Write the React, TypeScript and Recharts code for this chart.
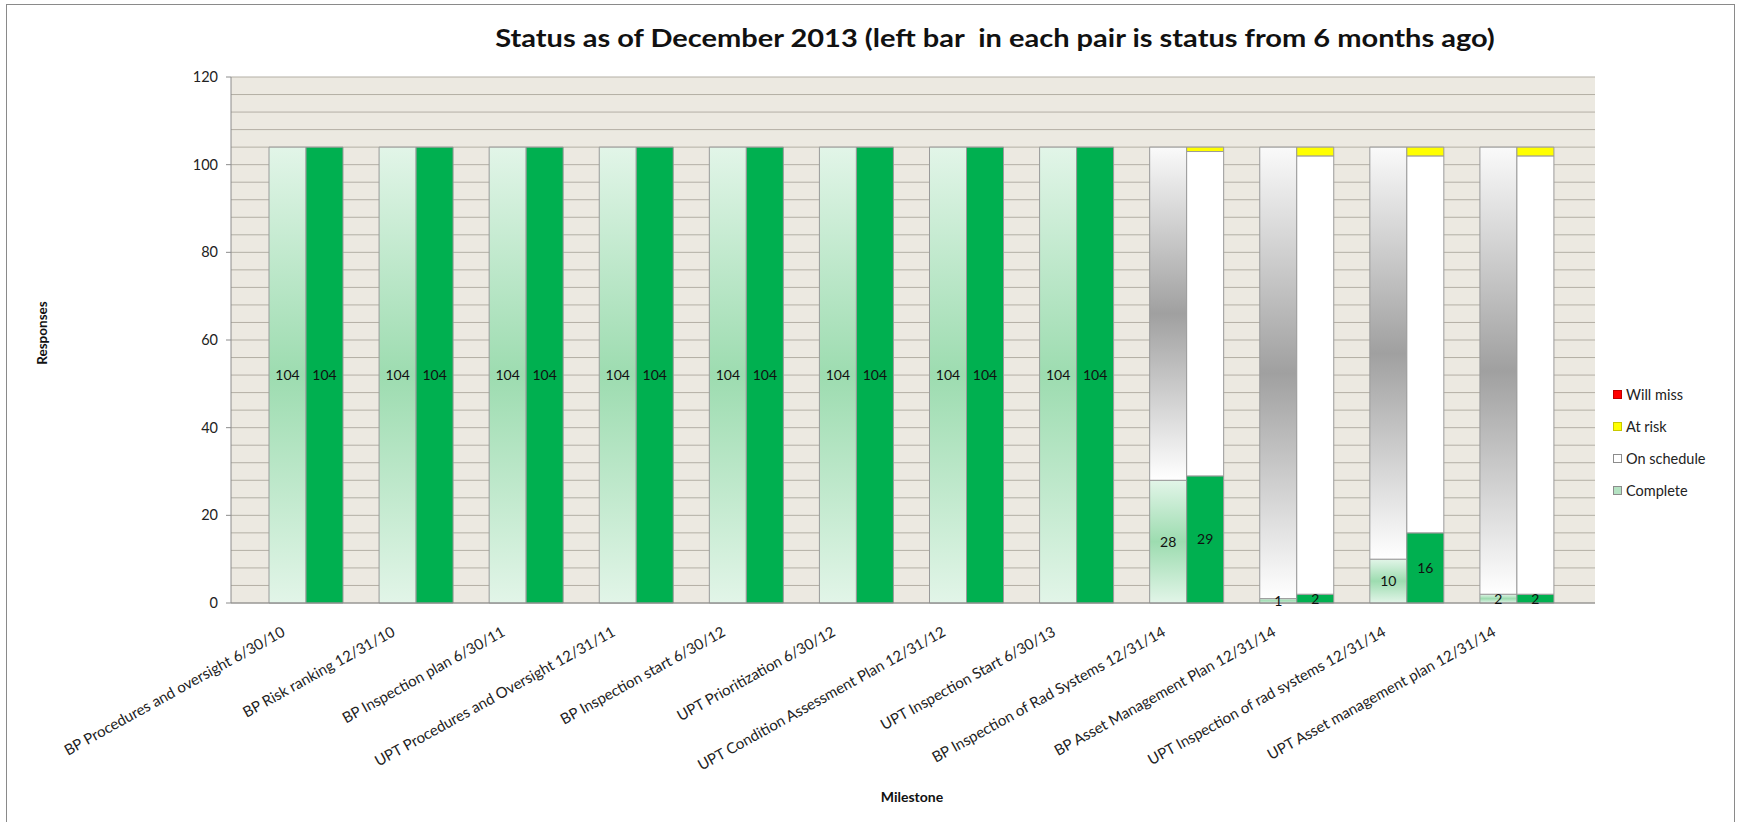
import React from 'react';
import { BarChart, Bar, XAxis, YAxis, CartesianGrid, LabelList } from 'recharts';

const categories = [
  'BP Procedures and oversight 6/30/10',
  'BP Risk ranking 12/31/10',
  'BP Inspection plan 6/30/11',
  'UPT Procedures and Oversight 12/31/11',
  'BP Inspection start 6/30/12',
  'UPT Prioritization 6/30/12',
  'UPT Condition Assessment Plan 12/31/12',
  'UPT Inspection Start 6/30/13',
  'BP Inspection of Rad Systems 12/31/14',
  'BP Asset Management Plan 12/31/14',
  'UPT Inspection of rad systems 12/31/14',
  'UPT Asset management plan 12/31/14',
];

// left bar in each pair: status 6 months ago
const prevComplete = [104, 104, 104, 104, 104, 104, 104, 104, 28, 1, 10, 2];
const prevOnSchedule = [0, 0, 0, 0, 0, 0, 0, 0, 76, 103, 94, 102];
const prevAtRisk = [0, 0, 0, 0, 0, 0, 0, 0, 0, 0, 0, 0];
const prevWillMiss = [0, 0, 0, 0, 0, 0, 0, 0, 0, 0, 0, 0];

// right bar in each pair: current status
const currComplete = [104, 104, 104, 104, 104, 104, 104, 104, 29, 2, 16, 2];
const currOnSchedule = [0, 0, 0, 0, 0, 0, 0, 0, 74, 100, 86, 100];
const currAtRisk = [0, 0, 0, 0, 0, 0, 0, 0, 1, 2, 2, 2];
const currWillMiss = [0, 0, 0, 0, 0, 0, 0, 0, 0, 0, 0, 0];

const yTicks = [0, 20, 40, 60, 80, 100, 120];
const gridValues = [0, 4, 8, 12, 16, 20, 24, 28, 32, 36, 40, 44, 48, 52, 56, 60, 64, 68, 72, 76, 80, 84, 88, 92, 96, 100, 104, 108, 112, 116, 120];

const legendItems = [
  { name: 'Will miss', color: '#ff0000', border: '#c00000' },
  { name: 'At risk', color: '#ffff00', border: '#c8c800' },
  { name: 'On schedule', color: '#ffffff', border: '#8c8c8c' },
  { name: 'Complete', color: '#b4e2c2', border: '#8c8c8c' },
];

const data = categories.map((name, i) => ({
  name,
  prevComplete: prevComplete[i],
  prevOnSchedule: prevOnSchedule[i],
  prevAtRisk: prevAtRisk[i],
  prevWillMiss: prevWillMiss[i],
  currComplete: currComplete[i],
  currOnSchedule: currOnSchedule[i],
  currAtRisk: currAtRisk[i],
  currWillMiss: currWillMiss[i],
}));

const FONT = 'Lato, "Open Sans", sans-serif';

const XTick = (props: any) => {
  const { x, y, payload } = props;
  return (
    <g transform={`translate(${x - 20},${y + 32}) rotate(-29)`}>
      <text x={0} y={0} textAnchor="end" fill="#222" fontSize={15} fontFamily={FONT}>
        {payload.value}
      </text>
    </g>
  );
};

const showLabel = (v: any) => (v && v > 0 ? v : '');

export default function App() {
  const stroke = '#9a9a9a';
  return (
    <div style={{ position: 'absolute', left: 0, top: 0, width: 1739, height: 822, background: '#fff', fontFamily: FONT }}>
      <div style={{ position: 'absolute', left: 6, top: 4, width: 1729, height: 826, border: '1.5px solid #8a8a8a', boxSizing: 'border-box' }} />
      <div style={{ position: 'absolute', left: 995, top: 37, transform: 'translate(-50%,-50%) scaleX(1.16)', whiteSpace: 'pre', fontSize: 25, fontWeight: 700, color: '#111' }}>
        {'Status as of December 2013 (left bar  in each pair is status from 6 months ago)'}
      </div>
      <div style={{ position: 'absolute', left: 42, top: 333, transform: 'translate(-50%,-50%) rotate(-90deg)', fontSize: 13.5, fontWeight: 700, color: '#111' }}>
        Responses
      </div>
      <div style={{ position: 'absolute', left: 912, top: 796, transform: 'translate(-50%,-50%)', fontSize: 14, fontWeight: 700, color: '#111' }}>
        Milestone
      </div>
      <div style={{ position: 'absolute', left: 1613, top: 378 }}>
        {legendItems.map((it) => (
          <div key={it.name} style={{ display: 'flex', alignItems: 'center', height: 32, fontSize: 14.5, color: '#222' }}>
            <span style={{ display: 'inline-block', width: 7, height: 7, background: it.color, border: `1px solid ${it.border}`, marginRight: 4 }} />
            {it.name}
          </div>
        ))}
      </div>
      <div style={{ position: 'absolute', left: 0, top: 0 }}>
        <BarChart
          width={1739}
          height={822}
          data={data}
          margin={{ top: 77, right: 144, bottom: 19, left: 171 }}
          barGap={0}
          barSize={37}
        >
          <defs>
            <linearGradient id="prevCompleteGrad" x1="0" y1="0" x2="0" y2="1">
              <stop offset="0%" stopColor="#e2f5e8" />
              <stop offset="50%" stopColor="#9ddcb0" />
              <stop offset="100%" stopColor="#e2f5e8" />
            </linearGradient>
            <linearGradient id="prevOnGrad" x1="0" y1="0" x2="0" y2="1">
              <stop offset="0%" stopColor="#fafafa" />
              <stop offset="50%" stopColor="#a0a0a0" />
              <stop offset="100%" stopColor="#ffffff" />
            </linearGradient>
          </defs>
          <CartesianGrid
            vertical={false}
            horizontalValues={gridValues}
            stroke="#b3afa5"
            strokeWidth={1}
            fill="#ece9e1"
            fillOpacity={1}
          />
          <XAxis
            dataKey="name"
            height={200}
            interval={0}
            tick={<XTick />}
            tickLine={false}
            tickSize={0}
            tickMargin={0}
            axisLine={{ stroke: '#8c8c8c' }}
            padding={{ left: 20, right: 23 }}
          />
          <YAxis
            width={60}
            domain={[0, 120]}
            ticks={yTicks}
            interval={0}
            tick={{ fill: '#222', fontSize: 14.5, fontFamily: FONT }}
            tickLine={{ stroke: '#8c8c8c' }}
            tickSize={5}
            tickMargin={8}
            axisLine={{ stroke: '#8c8c8c' }}
          />
          <Bar dataKey="prevComplete" stackId="prev" fill="url(#prevCompleteGrad)" stroke={stroke} strokeWidth={1} isAnimationActive={false}>
            <LabelList dataKey="prevComplete" position="center" formatter={showLabel} fill="#111" fontSize={14} fontFamily={FONT} />
          </Bar>
          <Bar dataKey="prevOnSchedule" stackId="prev" fill="url(#prevOnGrad)" stroke={stroke} strokeWidth={1} isAnimationActive={false} />
          <Bar dataKey="prevAtRisk" stackId="prev" fill="#ffff00" stroke={stroke} strokeWidth={1} isAnimationActive={false} />
          <Bar dataKey="prevWillMiss" stackId="prev" fill="#ff0000" stroke={stroke} strokeWidth={1} isAnimationActive={false} />
          <Bar dataKey="currComplete" stackId="curr" fill="#00b050" stroke={stroke} strokeWidth={1} isAnimationActive={false}>
            <LabelList dataKey="currComplete" position="center" formatter={showLabel} fill="#111" fontSize={14} fontFamily={FONT} />
          </Bar>
          <Bar dataKey="currOnSchedule" stackId="curr" fill="#ffffff" stroke={stroke} strokeWidth={1} isAnimationActive={false} />
          <Bar dataKey="currAtRisk" stackId="curr" fill="#ffff00" stroke={stroke} strokeWidth={1} isAnimationActive={false} />
          <Bar dataKey="currWillMiss" stackId="curr" fill="#ff0000" stroke={stroke} strokeWidth={1} isAnimationActive={false} />
        </BarChart>
      </div>
    </div>
  );
}
